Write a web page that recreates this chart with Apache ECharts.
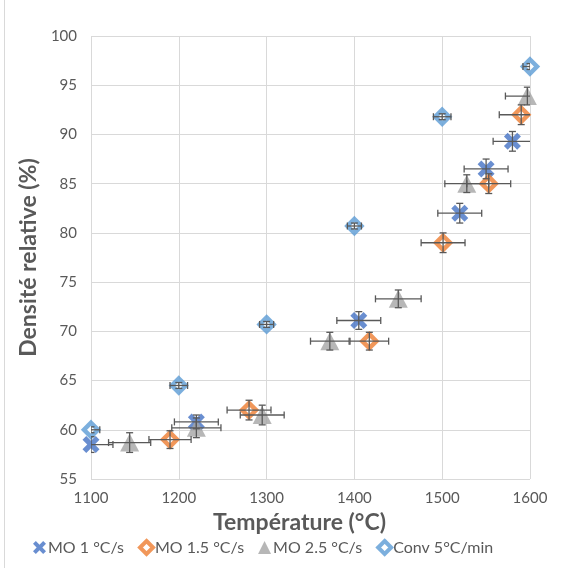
<!DOCTYPE html>
<html>
<head>
<meta charset="utf-8">
<script src="https://cdn.jsdelivr.net/npm/echarts@6/dist/echarts.min.js"></script>
<style>
html,body{margin:0;padding:0;background:#fff;}
#wrap{position:absolute;left:4px;top:0;width:566px;height:568px;border-left:1px solid #d9d9d9;box-sizing:border-box;}
#chart{width:570px;height:568px;position:absolute;left:0;top:0;}
</style>
</head>
<body>
<div id="wrap"></div>
<div id="chart"></div>
<script>
// ---- Data ----
const seriesNames = ['MO 1 °C/s', 'MO 1.5 °C/s', 'MO 2.5 °C/s', 'Conv 5°C/min'];

const mo1Temp = [1100, 1220, 1405, 1520, 1550, 1580];
const mo1Dens = [58.5, 60.8, 71.1, 82.0, 86.5, 89.3];
const mo1XErr = [25, 25, 25, 25, 25, 22];
const mo1YErr = [0.8, 0.7, 0.9, 1.0, 1.0, 1.0];

const mo15Temp = [1190, 1280, 1417, 1501, 1553, 1590];
const mo15Dens = [59.0, 62.0, 69.0, 79.0, 85.0, 92.0];
const mo15XErr = [24, 25, 22, 25, 25, 25];
const mo15YErr = [0.9, 1.0, 0.9, 1.0, 1.0, 1.0];

const mo25Temp = [1144, 1220, 1295, 1372, 1450, 1528, 1597];
const mo25Dens = [58.7, 60.2, 61.5, 69.0, 73.3, 85.0, 93.9];
const mo25XErr = [24, 28, 25, 22, 26, 25, 25];
const mo25YErr = [1.0, 1.0, 1.0, 0.9, 0.9, 0.9, 0.9];

const convTemp = [1100, 1200, 1300, 1400, 1500, 1600];
const convDens = [60.0, 64.5, 70.7, 80.7, 91.8, 96.9];
const convXErr = [10, 10, 8, 8, 10, 8];
const convYErr = [0.3, 0.3, 0.3, 0.3, 0.3, 0.3];

const xTicks = [1100, 1200, 1300, 1400, 1500, 1600];
const yTicks = [55, 60, 65, 70, 75, 80, 85, 90, 95, 100];

// ---- Build ----
const colors = ['#4472C4', '#ED7D31', '#A5A5A5', '#5B9BD5'];
const xPath = 'path://M0,2.2 L2.2,0 L5,2.8 L7.8,0 L10,2.2 L7.2,5 L10,7.8 L7.8,10 L5,7.2 L2.2,10 L0,7.8 L2.8,5 Z';

function pts(t, d) { return t.map((v, i) => [v, d[i]]); }
function errs(t, d, xe, ye) { return t.map((v, i) => [v, d[i], xe[i], ye[i]]); }

const errColor = '#595959';
function renderErr(params, api) {
  const x = api.value(0), y = api.value(1), xe = api.value(2), ye = api.value(3);
  const l = api.coord([x - xe, y]), r = api.coord([x + xe, y]);
  const t = api.coord([x, y + ye]), b = api.coord([x, y - ye]);
  const cap = 3.5;
  const st = { stroke: errColor, lineWidth: 1.3 };
  return {
    type: 'group',
    children: [
      { type: 'line', shape: { x1: l[0], y1: l[1], x2: r[0], y2: r[1] }, style: st },
      { type: 'line', shape: { x1: l[0], y1: l[1] - cap, x2: l[0], y2: l[1] + cap }, style: st },
      { type: 'line', shape: { x1: r[0], y1: r[1] - cap, x2: r[0], y2: r[1] + cap }, style: st },
      { type: 'line', shape: { x1: t[0], y1: t[1], x2: b[0], y2: b[1] }, style: st },
      { type: 'line', shape: { x1: t[0] - cap, y1: t[1], x2: t[0] + cap, y2: t[1] }, style: st },
      { type: 'line', shape: { x1: b[0] - cap, y1: b[1], x2: b[0] + cap, y2: b[1] }, style: st }
    ]
  };
}

const chart = echarts.init(document.getElementById('chart'));
const font = 'Lato, "Open Sans", sans-serif';
const txt = '#595959';

const scatterDefs = [
  { name: seriesNames[0], data: pts(mo1Temp, mo1Dens), symbol: xPath, symbolSize: 17,
    itemStyle: { color: colors[0] }, z: 3 },
  { name: seriesNames[1], data: pts(mo15Temp, mo15Dens), symbol: 'diamond', symbolSize: 14,
    itemStyle: { color: '#fff', borderColor: colors[1], borderWidth: 4.5 }, z: 4 },
  { name: seriesNames[2], data: pts(mo25Temp, mo25Dens), symbol: 'triangle', symbolSize: [19, 18],
    itemStyle: { color: colors[2] }, z: 4 },
  { name: seriesNames[3], data: pts(convTemp, convDens), symbol: 'diamond', symbolSize: 14,
    itemStyle: { color: '#fff', borderColor: colors[3], borderWidth: 4.5 }, z: 4 }
];
const errDefs = [
  errs(mo1Temp, mo1Dens, mo1XErr, mo1YErr),
  errs(mo15Temp, mo15Dens, mo15XErr, mo15YErr),
  errs(mo25Temp, mo25Dens, mo25XErr, mo25YErr),
  errs(convTemp, convDens, convXErr, convYErr)
];

const series = [];
scatterDefs.forEach(s => series.push(Object.assign({ type: 'scatter', emphasis: { disabled: true } }, s)));
errDefs.forEach(d => series.push({ type: 'custom', renderItem: renderErr, data: d, z: 6, clip: true, silent: true }));

const legendData = [
  { name: seriesNames[0], icon: xPath, itemStyle: { color: colors[0], borderWidth: 0 } },
  { name: seriesNames[1], icon: 'diamond', itemStyle: { color: '#fff', borderColor: colors[1], borderWidth: 4 } },
  { name: seriesNames[2], icon: 'triangle', itemStyle: { color: colors[2], borderWidth: 0 } },
  { name: seriesNames[3], icon: 'diamond', itemStyle: { color: '#fff', borderColor: colors[3], borderWidth: 4 } }
];

chart.setOption({
  animation: false,
  textStyle: { fontFamily: font },
  grid: { left: 91, right: 40, top: 36, bottom: 89 },
  xAxis: {
    type: 'value', min: xTicks[0], max: xTicks[xTicks.length - 1], interval: 100,
    name: 'Température (°C)', nameLocation: 'middle', nameGap: 22,
    nameTextStyle: { color: txt, fontSize: 23, fontWeight: 'bold', fontFamily: font, padding: [0, 22, 0, 0] },
    axisLine: { show: false }, axisTick: { show: false },
    axisLabel: { color: txt, fontSize: 15, margin: 12, fontFamily: font, formatter: v => String(v) },
    splitLine: { show: true, lineStyle: { color: '#d9d9d9', width: 1 } }
  },
  yAxis: {
    type: 'value', min: yTicks[0], max: yTicks[yTicks.length - 1], interval: 5,
    name: 'Densité relative (%)', nameLocation: 'middle', nameGap: 49, nameRotate: 90,
    nameTextStyle: { color: txt, fontSize: 23, fontWeight: 'bold', fontFamily: font },
    axisLine: { show: false }, axisTick: { show: false },
    axisLabel: { color: txt, fontSize: 15, margin: 14, fontFamily: font },
    splitLine: { show: true, lineStyle: { color: '#d9d9d9', width: 1 } }
  },
  legend: {
    data: legendData, bottom: 7, left: 28, itemGap: 14, itemWidth: 13, itemHeight: 13,
    textStyle: { color: txt, fontSize: 16, fontFamily: font, padding: [0, 0, 0, -3] }
  },
  series: series
});
</script>
</body>
</html>
